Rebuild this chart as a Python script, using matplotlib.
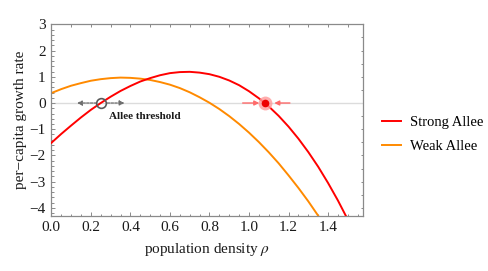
import matplotlib
matplotlib.use('Agg')
import matplotlib.pyplot as plt
from matplotlib.ticker import MultipleLocator

rho = [0.00, 0.05, 0.10, 0.15, 0.20, 0.25, 0.30, 0.35, 0.40, 0.45,
       0.50, 0.55, 0.60, 0.65, 0.70, 0.75, 0.80, 0.85, 0.90, 0.95,
       1.00, 1.05, 1.10, 1.15, 1.20, 1.25, 1.30, 1.35, 1.40, 1.45, 1.50]
strongAllee = [-1.52, -1.18, -0.86, -0.55, -0.26, 0.00, 0.24, 0.46, 0.65, 0.82,
               0.95, 1.06, 1.14, 1.18, 1.19, 1.16, 1.10, 1.00, 0.86, 0.68,
               0.45, 0.18, -0.13, -0.49, -0.90, -1.36, -1.87, -2.43, -3.05, -3.72, -4.45]
weakAllee = [0.38, 0.53, 0.66, 0.76, 0.85, 0.91, 0.95, 0.97, 0.96, 0.93,
             0.88, 0.80, 0.70, 0.57, 0.41, 0.22, 0.01, -0.23, -0.50, -0.80,
             -1.13, -1.49, -1.88, -2.30, -2.76, -3.24, -3.75, -4.30, -4.88, -5.49, -6.14]
seriesNames = ["Strong Allee", "Weak Allee"]
alleeThreshold = 0.25
stablePoint = 1.08

plt.rcParams['font.family'] = ['Liberation Serif', 'DejaVu Serif']
plt.rcParams['mathtext.fontset'] = 'stix'

fig = plt.figure(figsize=(4.89, 2.71), dpi=100)
ax = fig.add_axes([0.105, 0.204, 0.637, 0.706])

frameGray = '#8a8a8a'
textColor = '#1a1a1a'

# zero line
ax.axhline(0, color='#dcdcdc', lw=1.0, zorder=1)

ax.plot(rho, strongAllee, color='#ff0000', lw=1.4, label=seriesNames[0], zorder=3)
ax.plot(rho, weakAllee, color='#ff8a00', lw=1.4, label=seriesNames[1], zorder=2)

# unstable point (Allee threshold) with arrows pointing away
arrowGray = dict(arrowstyle='-|>', color='#6e6e6e', lw=0.9, linestyle=(0, (2, 1)),
                 mutation_scale=7, shrinkA=0, shrinkB=0)
ax.annotate('', xy=(0.13, 0), xytext=(0.229, 0), arrowprops=arrowGray, zorder=4)
ax.annotate('', xy=(0.37, 0), xytext=(0.283, 0), arrowprops=arrowGray, zorder=4)
ax.plot([alleeThreshold], [0], 'o', ms=7, mfc='none', mec='#5a5a5a', mew=1.2, zorder=5)
ax.text(0.292, -0.5, 'Allee threshold', fontsize=8, fontweight='bold',
        ha='left', va='center', color=textColor)

# stable point with arrows pointing in
arrowRed = dict(arrowstyle='-|>', color='#ff6a6a', lw=1.0,
                mutation_scale=7, shrinkA=0, shrinkB=0)
ax.annotate('', xy=(1.052, 0), xytext=(0.968, 0), arrowprops=arrowRed, zorder=4)
ax.annotate('', xy=(1.128, 0), xytext=(1.207, 0), arrowprops=arrowRed, zorder=4)
ax.plot([stablePoint], [0], 'o', ms=10, color='#ff9a9a', alpha=0.8, mew=0, zorder=5)
ax.plot([stablePoint], [0], 'o', ms=5.5, color='#ee0000', mew=0, zorder=6)

ax.set_xlim(0, 1.576)
ax.set_ylim(-4.3, 3)

# Mathematica style frame
for side in ax.spines.values():
    side.set_color(frameGray)
    side.set_linewidth(0.9)

ax.xaxis.set_major_locator(MultipleLocator(0.2))
ax.xaxis.set_minor_locator(MultipleLocator(0.05))
ax.yaxis.set_major_locator(MultipleLocator(1))
ax.yaxis.set_minor_locator(MultipleLocator(0.2))
ax.xaxis.set_major_formatter(matplotlib.ticker.FormatStrFormatter('%.1f'))
ax.tick_params(which='both', direction='in', color=frameGray, width=0.7,
               labelsize=11, labelcolor=textColor, top=False, right=False)
ax.tick_params(which='major', length=3.2, pad=4)
ax.tick_params(which='minor', length=1.8)

# top and right frame ticks have their own spacing
top = ax.secondary_xaxis('top')
top.xaxis.set_major_locator(MultipleLocator(0.1))
top.tick_params(direction='in', length=1.8, width=0.7, color=frameGray, labeltop=False)
top.spines['top'].set_visible(False)
right = ax.secondary_yaxis('right')
right.yaxis.set_major_locator(MultipleLocator(0.5))
right.tick_params(direction='in', length=1.8, width=0.7, color=frameGray, labelright=False)
right.spines['right'].set_visible(False)

ax.set_xlabel('population density $\\rho$', fontsize=11, color=textColor, labelpad=5)
ax.set_ylabel('per\u2212capita growth rate', fontsize=11, color=textColor, labelpad=2)

fig.legend(loc='center left', bbox_to_anchor=(0.781, 0.504), frameon=False,
           fontsize=10.5, handlelength=1.3, handletextpad=0.6, labelspacing=0.75,
           borderpad=0, borderaxespad=0)

plt.savefig('out.png', dpi=100)
plt.close(fig)
